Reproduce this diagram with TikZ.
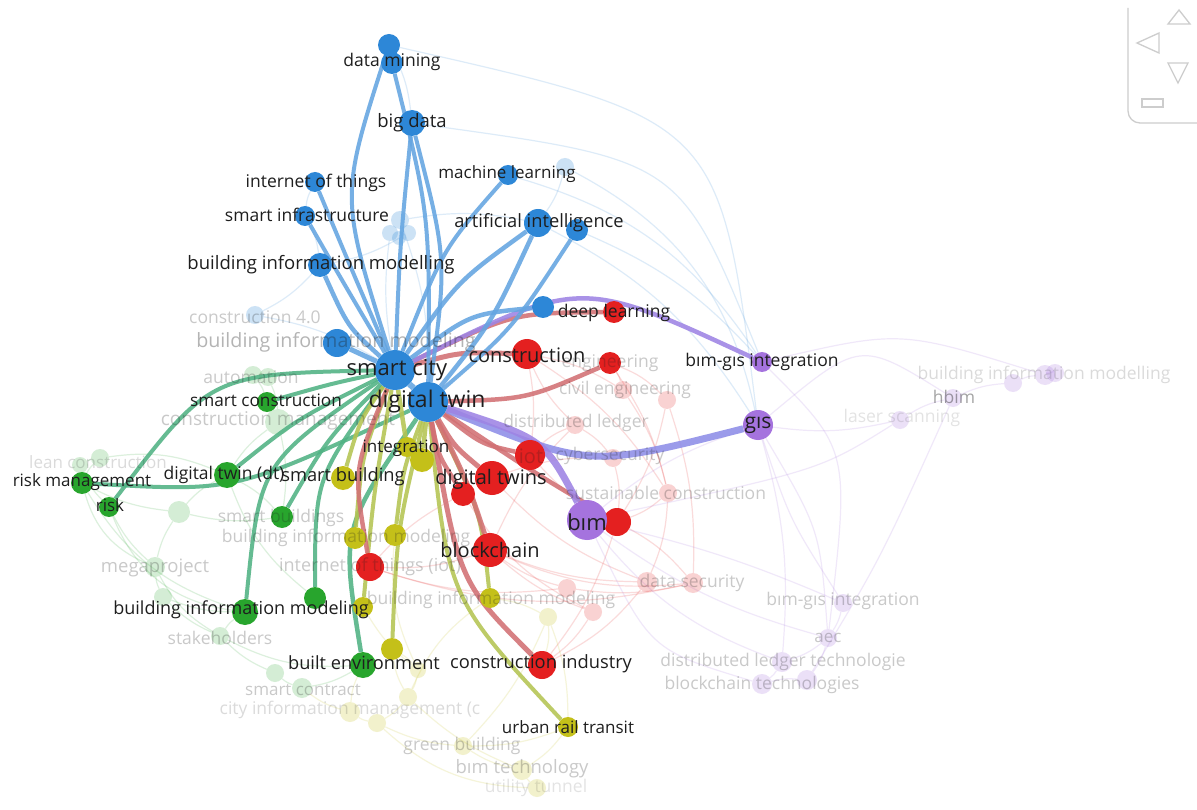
\documentclass[tikz,border=0pt]{standalone}
\usepackage{fontspec}
\setmainfont{Open Sans}
\pgfdeclarelayer{l0}\pgfdeclarelayer{l1}\pgfdeclarelayer{l3}
\pgfsetlayers{l0,l1,l3,main}
\definecolor{cB}{RGB}{45,135,215}
\definecolor{cR}{RGB}{228,32,32}
\definecolor{cG}{RGB}{40,165,45}
\definecolor{cY}{RGB}{196,192,25}
\definecolor{cP}{RGB}{165,115,222}
\definecolor{ceB}{RGB}{100,165,225}
\definecolor{ceR}{RGB}{210,112,116}
\definecolor{ceG}{RGB}{80,178,132}
\definecolor{ceY}{RGB}{180,196,82}
\definecolor{ceP}{RGB}{158,132,228}
\definecolor{ceP2}{RGB}{142,142,232}
\definecolor{txt}{RGB}{30,30,30}
\definecolor{navc}{RGB}{205,205,205}
\begin{document}
\begin{tikzpicture}[x=1pt,y=-1pt,
  nd/.style={circle,inner sep=0pt,minimum size=#1},
  nB/.style={nd=#1,fill=cB}, nR/.style={nd=#1,fill=cR}, nG/.style={nd=#1,fill=cG},
  nY/.style={nd=#1,fill=cY}, nP/.style={nd=#1,fill=cP},
  fB/.style={nd=#1,fill=cB,fill opacity=0.24}, fR/.style={nd=#1,fill=cR,fill opacity=0.2},
  fG/.style={nd=#1,fill=cG,fill opacity=0.2}, fY/.style={nd=#1,fill=cY,fill opacity=0.22},
  fP/.style={nd=#1,fill=cP,fill opacity=0.22},
  lab/.style={inner sep=0pt,text=txt,font=\fontsize{#1}{#1}\selectfont}, lab/.default=17.5,
  flab/.style={lab=#1,text opacity=0.24}, flab/.default=17.5,
  eB/.style={draw=ceB,line width=#1,draw opacity=0.88}, eB/.default=4.5,
  eR/.style={draw=ceR,line width=#1,draw opacity=0.88}, eR/.default=4.5,
  eG/.style={draw=ceG,line width=#1,draw opacity=0.88}, eG/.default=4.5,
  eY/.style={draw=ceY,line width=#1,draw opacity=0.88}, eY/.default=4.5,
  eP/.style={draw=ceP,line width=#1,draw opacity=0.88}, eP/.default=4.5,
  fe/.style={draw=#1,line width=1.2,draw opacity=0.16},
  nav/.style={draw=navc,line width=1.3}
]
\useasboundingbox (0,0) rectangle (1197,810);
\begin{pgfonlayer}{l0}
\fill[white] (0,0) rectangle (1197,810);
\end{pgfonlayer}

% ---------- solid nodes ----------
\node[nB=22] (dma) at (389,45) {};
\node[nB=22] (dmb) at (392,63) {};
\node[nB=26] (bd) at (412,123) {};
\node[nB=20] (ml) at (508,175) {};
\node[nB=20] (iotb) at (315,182) {};
\node[nB=20] (si) at (305,216) {};
\node[nB=28] (ai) at (538,223) {};
\node[nB=22] (aib) at (577,230) {};
\node[nB=24] (bimm) at (320,265) {};
\node[nB=22] (dlb) at (543,307) {};
\node[nB=28] (bb) at (337,343) {};
\node[nR=22] (dlr) at (614,312) {};
\node[nR=30] (cons) at (527,354) {};
\node[nR=22] (eng) at (610,363) {};
\node[nR=30] (iotr) at (530,455) {};
\node[nR=24] (dtw2) at (463,494) {};
\node[nR=34] (dtw) at (492,478) {};
\node[nR=28] (bimr) at (617,522) {};
\node[nR=34] (bc) at (490,550) {};
\node[nR=28] (itr) at (370,567) {};
\node[nR=28] (ci) at (542,665) {};
\node[nP=20] (bgi) at (762,362) {};
\node[nP=30] (gis) at (758,425) {};
\node[nP=40] (bim) at (587,520) {};
\node[nG=20] (scon) at (267,402) {};
\node[nG=22] (rm) at (82,483) {};
\node[nG=20] (risk) at (109,507) {};
\node[nG=26] (dtdt) at (227,475) {};
\node[nG=22] (sbs) at (282,517) {};
\node[nG=22] (g2) at (315,598) {};
\node[nG=26] (bimg) at (245,612) {};
\node[nG=26] (be) at (363,665) {};
\node[nY=20] (in1) at (407,447) {};
\node[nY=24] (in2) at (422,460) {};
\node[nY=24] (sb) at (343,478) {};
\node[nY=22] (y1) at (355,538) {};
\node[nY=22] (y2) at (395,535) {};
\node[nY=20] (y3) at (363,607) {};
\node[nY=20] (y4) at (490,598) {};
\node[nY=22] (y5) at (392,649) {};
\node[nY=20] (urt) at (568,727) {};
\node[nB=40] (sc) at (395,370) {};
\node[nB=40] (dt) at (428,402) {};

% ---------- faded nodes ----------
\begin{pgfonlayer}{l1}
\node[fB=18] (fb1) at (565,167) {};
\node[fB=18] (fb2) at (400,220) {};
\node[fB=16] (fb3) at (390,233) {};
\node[fB=16] (fb4) at (408,233) {};
\node[fB=14] (fb5) at (399,238) {};
\node[fB=18] (c40) at (255,315) {};
\node[fG=18] (au1) at (253,375) {};
\node[fG=18] (au2) at (268,377) {};
\node[fG=26] (cm) at (278,422) {};
\node[fG=18] (le1) at (100,458) {};
\node[fG=16] (le2) at (80,465) {};
\node[fG=22] (fg1) at (179,512) {};
\node[fG=20] (mp) at (155,567) {};
\node[fG=18] (fg2) at (163,597) {};
\node[fG=18] (sh) at (220,636) {};
\node[fG=18] (sct1) at (275,673) {};
\node[fG=20] (sct2) at (302,688) {};
\node[fR=18] (ce1) at (623,390) {};
\node[fR=18] (ce2) at (667,400) {};
\node[fR=18] (dl) at (575,425) {};
\node[fR=18] (cy) at (613,458) {};
\node[fR=18] (sus) at (668,493) {};
\node[fR=20] (ds1) at (647,582) {};
\node[fR=20] (ds2) at (693,583) {};
\node[fR=18] (fr1) at (567,588) {};
\node[fR=18] (fr2) at (593,612) {};
\node[fY=18] (fy1) at (548,617) {};
\node[fY=20] (cim) at (350,712) {};
\node[fY=18] (fy2) at (377,723) {};
\node[fY=18] (fy3) at (408,697) {};
\node[fY=16] (fy4) at (418,670) {};
\node[fY=18] (gb) at (463,746) {};
\node[fY=20] (bt) at (522,770) {};
\node[fY=18] (ut) at (537,788) {};
\node[fP=18] (bgi2) at (843,603) {};
\node[fP=18] (aec) at (828,638) {};
\node[fP=20] (dlt) at (782,662) {};
\node[fP=20] (bct1) at (762,684) {};
\node[fP=20] (bct2) at (807,680) {};
\node[fP=18] (hb) at (953,398) {};
\node[fP=18] (ls) at (900,420) {};
\node[fP=18] (bm1) at (1013,383) {};
\node[fP=20] (bm2) at (1045,375) {};
\node[fP=18] (bm3) at (1055,373) {};
\end{pgfonlayer}

% ---------- faded edges ----------
\begin{pgfonlayer}{l0}
% blue
\draw[fe=cB] (fb2) to[bend left=10] (dt);
\draw[fe=cB] (fb3) to[bend right=8] (sc);
\draw[fe=cB] (fb1) to[bend left=10] (ai);
\draw[fe=cB] (fb1) to[bend left=25] (gis);
\draw[fe=cB] (ml) to[bend left=20] (bgi);
\draw[fe=cB] (dma) .. controls (720,120) .. (gis);
\draw[fe=cB] (bd) .. controls (680,160) .. (bgi);
\draw[fe=cB] (fb2) to[bend left=10] (ai);
\draw[fe=cB] (fb4) to[bend left=10] (bimm);
\draw[fe=cB] (c40) to[bend left=10] (sc);
\draw[fe=cB] (c40) to[bend right=10] (bimm);
\draw[fe=cB] (si) to[bend left=10] (bimm);
\draw[fe=cB] (iotb) to[bend right=10] (si);
\draw[fe=cB] (dma) to[bend left=10] (bd);
\draw[fe=cB] (ai) to[bend left=15] (gis);
\draw[fe=cB] (aib) to[bend left=12] (bgi);
% red
\draw[fe=cR] (cons) to[bend left=10] (ce1);
\draw[fe=cR] (cons) to[bend right=10] (dl);
\draw[fe=cR] (eng) to[bend left=10] (ce1);
\draw[fe=cR] (eng) to[bend left=12] (ce2);
\draw[fe=cR] (ce1) to[bend left=10] (sus);
\draw[fe=cR] (dl) to[bend right=10] (iotr);
\draw[fe=cR] (dl) to[bend left=10] (cy);
\draw[fe=cR] (cy) to[bend left=10] (bimr);
\draw[fe=cR] (sus) to[bend left=10] (bimr);
\draw[fe=cR] (sus) to[bend left=10] (ds1);
\draw[fe=cR] (iotr) to[bend right=10] (bimr);
\draw[fe=cR] (dtw) to[bend right=12] (ds1);
\draw[fe=cR] (bc) to[bend right=10] (ds1);
\draw[fe=cR] (bc) to[bend right=14] (ds2);
\draw[fe=cR] (bc) to[bend right=10] (fr1);
\draw[fe=cR] (bc) to[bend right=10] (fr2);
\draw[fe=cR] (itr) to[bend right=10] (bc);
\draw[fe=cR] (itr) to[bend right=12] (fr1);
\draw[fe=cR] (ci) to[bend right=10] (fr2);
\draw[fe=cR] (ci) to[bend right=12] (ds1);
\draw[fe=cR] (bimr) to[bend left=10] (ds2);
\draw[fe=cR] (ce2) to[bend left=10] (bimr);
\draw[fe=cR] (dtw) to[bend left=10] (cy);
\draw[fe=cR] (dtw2) to[bend right=10] (itr);
\draw[fe=cR] (cons) to[bend left=8] (iotr);
\draw[fe=cR] (dl) to[bend right=10] (bc);
\draw[fe=cR] (ce2) to[bend left=10] (ds2);
\draw[fe=cR] (fr1) to[bend right=10] (ds2);
\draw[fe=cR] (bimr) to[bend left=10] (ci);
\draw[fe=cR] (eng) to[bend left=10] (sus);
\draw[fe=cR] (itr) to[bend right=15] (ds2);
\draw[fe=cR] (dtw2) to[bend right=15] (fr2);
\draw[fe=cR] (cons) to[bend left=12] (sus);
% green
\draw[fe=cG] (rm) to[bend left=10] (le1);
\draw[fe=cG] (le1) to[bend right=10] (le2);
\draw[fe=cG] (le2) to[bend right=10] (risk);
\draw[fe=cG] (rm) to[bend right=10] (fg1);
\draw[fe=cG] (risk) to[bend right=10] (mp);
\draw[fe=cG] (fg1) to[bend left=10] (dtdt);
\draw[fe=cG] (fg1) to[bend right=10] (mp);
\draw[fe=cG] (mp) to[bend right=10] (fg2);
\draw[fe=cG] (fg2) to[bend right=10] (bimg);
\draw[fe=cG] (bimg) to[bend right=10] (sh);
\draw[fe=cG] (sh) to[bend right=10] (sct1);
\draw[fe=cG] (sct1) to[bend right=10] (sct2);
\draw[fe=cG] (sct2) to[bend right=10] (be);
\draw[fe=cG] (mp) to[bend right=15] (sh);
\draw[fe=cG] (au1) to[bend left=10] (scon);
\draw[fe=cG] (au2) to[bend left=10] (cm);
\draw[fe=cG] (cm) to[bend right=10] (dtdt);
\draw[fe=cG] (cm) to[bend left=10] (sbs);
\draw[fe=cG] (scon) to[bend left=10] (cm);
\draw[fe=cG] (fg1) to[bend right=10] (sbs);
\draw[fe=cG] (risk) to[bend right=30] (bimg);
\draw[fe=cG] (rm) to[bend right=25] (mp);
\draw[fe=cG] (dtdt) to[bend left=10] (sbs);
\draw[fe=cG] (sh) to[bend right=15] (be);
\draw[fe=cG] (fg2) to[bend right=10] (sh);
\draw[fe=cG] (le1) to[bend left=15] (dtdt);
\draw[fe=cG] (rm) to[bend right=20] (bimg);
\draw[fe=cG] (dtdt) to[bend right=15] (g2);
% yellow
\draw[fe=cY] (be) to[bend right=10] (cim);
\draw[fe=cY] (cim) to[bend right=10] (fy2);
\draw[fe=cY] (fy2) to[bend right=10] (fy3);
\draw[fe=cY] (fy3) to[bend right=10] (fy4);
\draw[fe=cY] (fy4) to[bend right=10] (y5);
\draw[fe=cY] (y5) to[bend right=10] (fy3);
\draw[fe=cY] (gb) to[bend right=10] (bt);
\draw[fe=cY] (bt) to[bend right=10] (ut);
\draw[fe=cY] (urt) to[bend left=10] (bt);
\draw[fe=cY] (urt) to[bend left=10] (gb);
\draw[fe=cY] (gb) to[bend left=10] (fy2);
\draw[fe=cY] (y4) to[bend left=10] (fy1);
\draw[fe=cY] (fy1) to[bend left=10] (urt);
\draw[fe=cY] (y3) to[bend right=10] (fy4);
\draw[fe=cY] (ci) to[bend right=10] (fy1);
\draw[fe=cY] (fy1) to[bend left=10] (gb);
\draw[fe=cY] (bt) to[bend left=10] (fy3);
\draw[fe=cY] (cim) to[bend left=10] (sct2);
\draw[fe=cY] (y4) to[bend right=15] (fy3);
\draw[fe=cY] (y2) to[bend right=15] (fy4);
\draw[fe=cY] (ut) to[bend left=20] (fy2);
% purple
\draw[fe=cP] (gis) .. controls (860,340) .. (hb);
\draw[fe=cP] (gis) to[bend right=10] (ls);
\draw[fe=cP] (ls) to[bend left=10] (hb);
\draw[fe=cP] (hb) to[bend left=10] (bm1);
\draw[fe=cP] (bm1) to[bend left=10] (bm2);
\draw[fe=cP] (bm2) to[bend left=10] (bm3);
\draw[fe=cP] (bgi) .. controls (900,330) .. (bm2);
\draw[fe=cP] (gis) .. controls (790,520) .. (bgi2);
\draw[fe=cP] (gis) .. controls (820,530) .. (aec);
\draw[fe=cP] (bgi2) to[bend left=10] (aec);
\draw[fe=cP] (aec) to[bend left=10] (dlt);
\draw[fe=cP] (dlt) to[bend left=10] (bct1);
\draw[fe=cP] (bct1) to[bend left=10] (bct2);
\draw[fe=cP] (bct2) to[bend right=10] (aec);
\draw[fe=cP] (bim) .. controls (650,650) .. (bct1);
\draw[fe=cP] (bim) to[bend right=15] (dlt);
\draw[fe=cP] (bim) to[bend right=10] (aec);
\draw[fe=cP] (gis) to[bend left=10] (dlt);
\draw[fe=cP] (bim) to[bend left=5] (bgi2);
\draw[fe=cP] (ls) .. controls (820,470) .. (bim);
\draw[fe=cP] (hb) .. controls (880,560) .. (bct2);
\draw[fe=cP] (bim) to[bend left=10] (gis);
\draw[fe=cP] (bgi) .. controls (850,450) .. (aec);
\end{pgfonlayer}

% ---------- highlighted edges ----------
\begin{pgfonlayer}{l3}
% green
\draw[eG=4] (sc) .. controls (330,384) .. (scon);
\draw[eG=4] (sc) .. controls (210,374) .. (risk);
\draw[eG=4] (dt) .. controls (235,492) .. (rm);
\draw[eG=4] (sc) .. controls (297,419) .. (dtdt);
\draw[eG=4] (sc) .. controls (327,439) .. (sbs);
\draw[eG=4] (sc) .. controls (260,463) .. (bimg);
\draw[eG=4] (sc) .. controls (315,478) .. (g2);
\draw[eG=4.5] (dt) .. controls (341,529) .. (be);
% yellow
\draw[eY] (dt) -- (in2);
\draw[eY] (sc) -- (in1);
\draw[eY=4] (sc) .. controls (360,420) .. (sb);
\draw[eY=4] (sc) .. controls (362,455) .. (y1);
\draw[eY=4] (dt) .. controls (403,470) .. (y2);
\draw[eY=4] (sc) .. controls (374,490) .. (y3);
\draw[eY=4] (dt) .. controls (481,513) .. (y4);
\draw[eY=4] (dt) .. controls (397,531) .. (y5);
\draw[eY=4] (dt) .. controls (448,598) .. (urt);
% red
\draw[eR] (sc) .. controls (512,313) .. (dlr);
\draw[eR=5] (sc) .. controls (460,352) .. (cons);
\draw[eR] (dt) .. controls (527,399) .. (eng);
\draw[eR] (dt) .. controls (481,444) .. (iotr);
\draw[eR=5] (dt) .. controls (454,446) .. (dtw);
\draw[eR] (dt) .. controls (438,455) .. (dtw2);
\draw[eR=5] (dt) .. controls (467,481) .. (bc);
\draw[eR] (dt) .. controls (533,472) .. (bimr);
\draw[eR] (sc) .. controls (353,470) .. (itr);
\draw[eR=5] (dt) .. controls (459,582) .. (ci);
% purple
\draw[eP] (sc) .. controls (581,278) .. (bgi);
\draw[draw=ceP2,line width=7,draw opacity=0.88] (dt) .. controls (589,468) .. (gis);
\draw[eP=7] (dt) .. controls (544,439) .. (bim);
% blue
\draw[eB=4] (sc) .. controls (340,197) .. (dma);
\draw[eB=4] (dt) .. controls (430,216) .. (dmb);
\draw[eB=4] (bd) .. controls (400,245) .. (sc);
\draw[eB=4] (bd) .. controls (447,259) .. (dt);
\draw[eB=4] (ml) .. controls (443,249) .. (sc);
\draw[eB=4] (iotb) .. controls (348,261) .. (sc);
\draw[eB=4] (si) .. controls (343,282) .. (sc);
\draw[eB=4.5] (ai) .. controls (458,281) .. (sc);
\draw[eB=4.5] (ai) .. controls (492,322) .. (dt);
\draw[eB=4] (aib) .. controls (513,328) .. (dt);
\draw[eB=4.5] (bimm) .. controls (348,327) .. (sc);
\draw[eB=4.5] (dlb) .. controls (470,314) .. (sc);
\draw[eB=5] (bb) -- (sc);
\draw[eB=6] (sc) -- (dt);
\end{pgfonlayer}

% ---------- faded labels (drawn over nodes) ----------
\node[flab] (l-c40) at (255,317) {construction 4.0};
\node[lab=19.7,text opacity=0.33] (l-bb) at (336,342) {building information modeling};
\node[flab] (l-au) at (251,377) {automation};
\node[flab=19] (l-cm) at (278,421) {construction management};
\node[flab=17,text opacity=0.16] (l-le) at (98,462) {lean construction};
\node[flab=18.5] (l-mp) at (155,568) {megaproject};
\node[flab] (l-sh) at (220,638) {stakeholders};
\node[flab=17] (l-sct) at (303,690) {smart contract};
\node[flab,text opacity=0.16] (l-cim) at (350,710) {city information management (c};
\node[flab] (l-gb) at (462,746) {green building};
\node[flab=18.5] (l-bt) at (522,769) {bım technology};
\node[flab,text opacity=0.12] (l-ut) at (536,788) {utility tunnel};
\node[flab] (l-sbs) at (281,518) {smart buildings};
\node[flab] (l-y1) at (346,538) {building information modeling};
\node[flab=18] (l-itr) at (370,567) {internet of things (iot)};
\node[flab] (l-y4) at (491,600) {building information modeling};
\node[flab] (l-eng) at (610,363) {engineering};
\node[flab] (l-ce) at (625,390) {civil engineering};
\node[flab] (l-dl) at (576,423) {distributed ledger};
\node[flab=20] (l-iotr) at (531,456) {iot};
\node[flab] (l-cy) at (610,456) {cybersecurity};
\node[flab] (l-sus) at (666,493) {sustainable construction};
\node[flab] (l-ds) at (692,583) {data security};
\node[flab] (l-bgi2) at (843,601) {bım-gıs integration};
\node[flab=17] (l-aec) at (828,638) {aec};
\node[flab] (l-dlt) at (783,662) {distributed ledger technologie};
\node[flab] (l-bct) at (762,685) {blockchain technologies};
\node[flab,text opacity=0.16] (l-bm) at (1044,375) {building information modelling};
\node[lab,text opacity=0.4] (l-hb) at (954,397) {hbim};
\node[flab,text opacity=0.12] (l-ls) at (902,418) {laser scanning};

% ---------- labels ----------
\node[lab] (t-dm) at (392,62) {data mining};
\node[lab=18.5] (t-bd) at (412,123) {big data};
\node[lab=17] (t-ml) at (507,174) {machine learning};
\node[lab] (t-iotb) at (316,183) {internet of things};
\node[lab] (t-si) at (307,215) {smart infrastructure};
\node[lab=18.3] (t-ai) at (539,223) {artificial intelligence};
\node[lab=18.5] (t-bimm) at (321,265) {building information modelling};
\node[lab] (t-dl) at (614,313) {deep learning};
\node[lab=22] (t-sc) at (397,370) {smart city};
\node[lab=23] (t-dt) at (427,402) {digital twin};
\node[lab=20] (t-cons) at (527,355) {construction};
\node[lab=17.5] (t-bgi) at (762,362) {bım-gıs integration};
\node[lab=21] (t-gis) at (758,425) {gıs};
\node[lab=17.2] (t-scon) at (266,400) {smart construction};
\node[lab] (t-dtdt) at (224,475) {digital twin (dt)};
\node[lab=17] (t-rm) at (82,482) {risk management};
\node[lab=17] (t-risk) at (110,505) {risk};
\node[lab=18.3] (t-sb) at (343,477) {smart building};
\node[lab=17] (t-in) at (406,448) {integration};
\node[lab=20] (t-dtw) at (491,479) {digital twins};
\node[lab=22] (t-bim) at (587,522) {bım};
\node[lab=20] (t-bc) at (490,550) {blockchain};
\node[lab=18] (t-bimg) at (241,610) {building information modeling};
\node[lab=18.2] (t-be) at (364,663) {built environment};
\node[lab=18.3] (t-ci) at (541,664) {construction industry};
\node[lab=17] (t-urt) at (568,727) {urban rail transit};

% ---------- navigation widget ----------
\draw[nav,rounded corners=12] (1128,8) -- (1128,123) -- (1197,123);
\draw[nav] (1168,24) -- (1179,10) -- (1190,24) -- cycle;
\draw[nav] (1159,33) -- (1137,43) -- (1159,53) -- cycle;
\draw[nav] (1168,63) -- (1188,63) -- (1178,83) -- cycle;
\draw[nav] (1142,99) rectangle (1163,107);
\end{tikzpicture}
\end{document}
